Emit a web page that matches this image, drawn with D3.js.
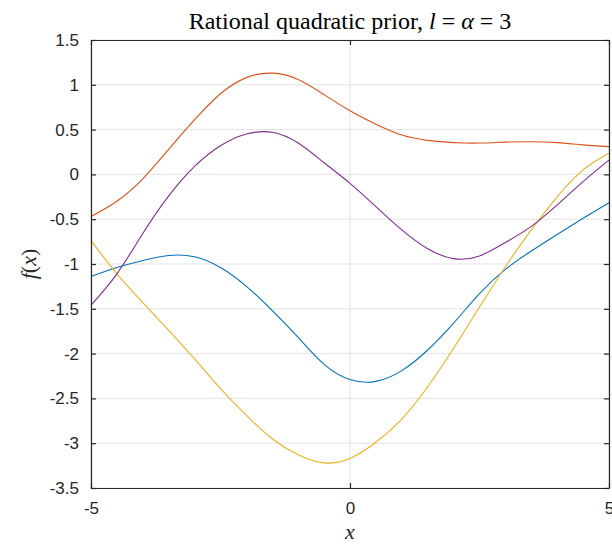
<!DOCTYPE html>
<html>
<head>
<meta charset="utf-8">
<script src="https://cdn.jsdelivr.net/npm/d3@7"></script>
<style>
  body { margin: 0; background: #fff; }
  svg { display: block; }
  .tick text { font-family: "Liberation Sans", Arial, sans-serif; font-size: 17px; fill: #262626; }
</style>
</head>
<body>
<div id="chart"></div>
<script>
// sample points along x, one value per curve
var xs = [-5, -4.5, -4, -3.5, -3, -2.5, -2, -1.5, -1, -0.5, 0, 0.5, 1, 1.5, 2, 2.5, 3, 3.5, 4, 4.5, 5];

var blue   = [-1.14, -1.04, -0.96, -0.905, -0.92, -1.04, -1.25, -1.52, -1.82, -2.12, -2.29, -2.31, -2.19, -1.96, -1.66, -1.33, -1.06, -0.855, -0.67, -0.49, -0.316];
var orange = [-0.47, -0.30, -0.05, 0.28, 0.61, 0.90, 1.08, 1.13, 1.06, 0.89, 0.71, 0.56, 0.44, 0.38, 0.355, 0.35, 0.36, 0.365, 0.355, 0.33, 0.31];
var yellow = [-0.74, -1.11, -1.43, -1.74, -2.06, -2.39, -2.69, -2.95, -3.13, -3.22, -3.17, -2.99, -2.73, -2.37, -1.94, -1.48, -1.03, -0.62, -0.25, 0.05, 0.235];
var purple = [-1.46, -1.11, -0.66, -0.24, 0.09, 0.32, 0.45, 0.47, 0.35, 0.13, -0.10, -0.36, -0.62, -0.83, -0.94, -0.91, -0.76, -0.58, -0.34, -0.08, 0.16];

var xTicks = [-5, 0, 5];
var yTicks = [-3.5, -3, -2.5, -2, -1.5, -1, -0.5, 0, 0.5, 1, 1.5];

var series = [
  {name: 'blue', values: blue, color: '#0072BD'},
  {name: 'orange', values: orange, color: '#D95319'},
  {name: 'yellow', values: yellow, color: '#EDB120'},
  {name: 'purple', values: purple, color: '#7E2F8E'}
];

var W = 612, H = 545;
var margin = {top: 40, right: 3, bottom: 57, left: 91};
var w = W - margin.left - margin.right,
    h = H - margin.top - margin.bottom;

var svg = d3.select('#chart').append('svg')
    .attr('width', W)
    .attr('height', H);

var g = svg.append('g')
    .attr('transform', 'translate(' + margin.left + ',' + margin.top + ')');

var x = d3.scaleLinear().domain([-5, 5]).range([0, w]);
var y = d3.scaleLinear().domain([-3.5, 1.5]).range([h, 0]);

//grid
g.append('g').selectAll('line.gy')
  .data(yTicks).enter()
  .append('line')
    .attr('x1', 0).attr('x2', w)
    .attr('y1', d => y(d)).attr('y2', d => y(d))
    .attr('stroke', '#e3e3e3')
    .attr('stroke-width', 1);

g.append('g').selectAll('line.gx')
  .data(xTicks).enter()
  .append('line')
    .attr('x1', d => x(d)).attr('x2', d => x(d))
    .attr('y1', 0).attr('y2', h)
    .attr('stroke', '#e3e3e3')
    .attr('stroke-width', 1);

//curves
var line = d3.line()
  .x((d, i) => x(xs[i]))
  .y(d => y(d))
  .curve(d3.curveNatural);

g.selectAll('path.curve')
  .data(series).enter()
  .append('path')
    .attr('class', 'curve')
    .attr('fill', 'none')
    .attr('stroke', d => d.color)
    .attr('stroke-width', 1.1)
    .attr('d', d => line(d.values));

//axes, ticks inside like matlab
var axisColor = '#262626';
var fmt = d => String(d);  // plain hyphen minus like the original

var xAxis = g.append('g')
  .attr('transform', 'translate(0,' + h + ')')
  .call(d3.axisBottom(x).tickValues(xTicks).tickSizeInner(-5).tickSizeOuter(0).tickPadding(14).tickFormat(fmt));

var yAxis = g.append('g')
  .call(d3.axisLeft(y).tickValues(yTicks).tickSizeInner(-5).tickSizeOuter(0).tickPadding(12).tickFormat(fmt));

var xTop = g.append('g')
  .call(d3.axisTop(x).tickValues(xTicks).tickSizeInner(-5).tickSizeOuter(0).tickFormat(''));

var yRight = g.append('g')
  .attr('transform', 'translate(' + w + ',0)')
  .call(d3.axisRight(y).tickValues(yTicks).tickSizeInner(-5).tickSizeOuter(0).tickFormat(''));

[xAxis, yAxis, xTop, yRight].forEach(function(a) {
  a.selectAll('.domain').attr('stroke', axisColor).attr('stroke-width', 1.2);
  a.selectAll('.tick line').attr('stroke', axisColor).attr('stroke-width', 1.2);
  a.selectAll('.tick text').attr('fill', axisColor);
});

//title and labels
svg.append('text')
  .attr('x', margin.left + w / 2)
  .attr('y', 29)
  .attr('text-anchor', 'middle')
  .style('font-family', '"Liberation Serif", "Times New Roman", serif')
  .style('font-size', '24px')
  .attr('fill', '#000')
  .html('Rational quadratic prior, <tspan font-style="italic">l</tspan> = <tspan font-style="italic">α</tspan> = 3');

svg.append('text')
  .attr('x', margin.left + w / 2)
  .attr('y', 539)
  .attr('text-anchor', 'middle')
  .style('font-family', '"Liberation Serif", "Times New Roman", serif')
  .style('font-size', '22px')
  .style('font-style', 'italic')
  .attr('fill', '#262626')
  .text('x');

svg.append('text')
  .attr('transform', 'translate(36,' + (margin.top + h / 2) + ') rotate(-90)')
  .attr('text-anchor', 'middle')
  .style('font-family', '"Liberation Serif", "Times New Roman", serif')
  .style('font-size', '22px')
  .attr('fill', '#262626')
  .html('<tspan font-style="italic">f</tspan>(<tspan font-style="italic">x</tspan>)');
</script>
</body>
</html>
